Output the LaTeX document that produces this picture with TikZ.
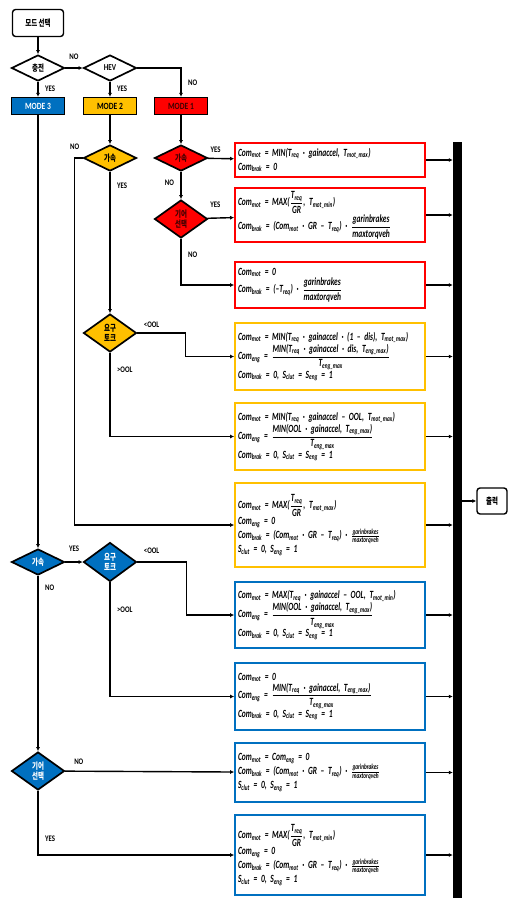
\documentclass[tikz,border=0pt]{standalone}
\usepackage{amsmath}
\usepackage{fontspec}
\setmainfont{Carlito}
\newfontfamily\kr[FakeStretch=0.72]{Noto Sans CJK KR}
\newfontfamily\lbl[FakeStretch=0.8]{Carlito}
\newfontfamily\fml[FakeStretch=0.68]{Carlito}
\usetikzlibrary{shapes,arrows.meta,positioning,calc}

\definecolor{mblue}{RGB}{0,112,192}
\definecolor{myellow}{RGB}{255,192,0}
\definecolor{mred}{RGB}{255,0,0}

\newcommand{\sbs}[1]{\textsubscript{#1}}
\newcommand{\frc}[2]{$\dfrac{\text{#1}}{\text{#2}}$}
\newcommand{\sfrc}[2]{$\tfrac{\text{#1}}{\text{#2}}$}
\newcommand{\mns}{–}
\newcommand{\fmlfont}{\fml\fontsize{11}{14}\selectfont\bfseries\itshape\spaceskip=1.6pt plus 0.5pt\relax}

\tikzset{
  arr/.style={line width=1.4pt, -{Latex[length=4pt,width=4pt]}},
  dec/.style={diamond, draw, line width=1.7pt, inner sep=0pt, minimum width=53pt,
    minimum height=26pt, align=center, font=\kr\fontsize{9}{10.5}\selectfont\bfseries},
  modebox/.style={rectangle, draw, line width=1.3pt, minimum width=53pt,
    minimum height=17pt, inner sep=0pt, font=\lbl\fontsize{9.5}{10}\selectfont\bfseries},
  termbox/.style={rectangle, rounded corners=3pt, draw, line width=1.4pt, fill=white,
    inner sep=0pt, font=\kr\fontsize{9}{10}\selectfont\bfseries},
  calcbox/.style={rectangle, draw, line width=1.7pt, minimum width=190pt, text width=184pt,
    inner sep=3pt, align=left, font=\fmlfont},
  yn/.style={font=\lbl\fontsize{8.5}{9}\selectfont\bfseries}
}

\begin{document}
\begin{tikzpicture}[x=1pt,y=-1pt]
\useasboundingbox (0,0) rectangle (508,898);

% Mode selection
\node[termbox, minimum width=51pt, minimum height=27pt] (sel) at (38,23) {모드 선택};
\node[dec] (chg) at (38,68) {충전};
\node[dec, font=\lbl\fontsize{9}{9}\selectfont\bfseries] (hev) at (110,68) {HEV};
\node[modebox, fill=mblue, text=white] (m3) at (38,106) {MODE 3};
\node[modebox, fill=myellow] (m2) at (110,106) {MODE 2};
\node[modebox, fill=mred, text=red!25!black] (m1) at (181,106) {MODE 1};

% Decisions
\node[dec, fill=mred, text=red!25!black] (acc1) at (181,158) {가속};
\node[dec, fill=mred, text=red!25!black, minimum height=38pt] (gear1) at (181,219) {기어\\선택};
\node[dec, fill=myellow] (acc2) at (110,158) {가속};
\node[dec, fill=myellow, minimum height=38pt] (req2) at (110,333) {요구\\토크};
\node[dec, fill=mblue, text=white] (acc3) at (38,562) {가속};
\node[dec, fill=mblue, text=white, minimum height=39pt] (req3) at (110,562) {요구\\토크};
\node[dec, fill=mblue, text=white, minimum height=38pt] (gear3) at (38,771) {기어\\선택};

% Mode 1 commands
\node[calcbox, draw=mred, minimum height=34pt] (r1) at (330,160) {%
Com\sbs{mot} = MIN(T\sbs{req} · gainaccel, T\sbs{mot\_max})\\
Com\sbs{brak} = 0};
\node[calcbox, draw=mred, minimum height=54pt] (r2) at (330,215) {%
Com\sbs{mot} = MAX(\frc{T\sbs{req}}{GR}, T\sbs{mot\_min})\\
Com\sbs{brak} = (Com\sbs{mot} · GR \mns{} T\sbs{req}) · \frc{garinbrakes}{maxtorqveh}};
\node[calcbox, draw=mred, minimum height=46pt] (r3) at (330,285) {%
Com\sbs{mot} = 0\\
Com\sbs{brak} = (\mns{}T\sbs{req}) · \frc{garinbrakes}{maxtorqveh}};

% Mode 2 commands
\node[calcbox, draw=myellow, minimum height=67pt] (y1) at (330,356.5) {%
Com\sbs{mot} = MIN(T\sbs{req} · gainaccel · (1 \mns{} dis), T\sbs{mot\_max})\\
Com\sbs{eng} = \frc{MIN(T\sbs{req} · gainaccel · dis, T\sbs{eng\_max})}{T\sbs{eng\_max}}\\
Com\sbs{brak} = 0, S\sbs{clut} = S\sbs{eng} = 1};
\node[calcbox, draw=myellow, minimum height=67pt] (y2) at (330,436.5) {%
Com\sbs{mot} = MIN(T\sbs{req} · gainaccel \mns{} OOL, T\sbs{mot\_max})\\
Com\sbs{eng} = \frc{MIN(OOL · gainaccel, T\sbs{eng\_max})}{T\sbs{eng\_max}}\\
Com\sbs{brak} = 0, S\sbs{clut} = S\sbs{eng} = 1};
\node[calcbox, draw=myellow, minimum height=84pt] (y3) at (330,525) {%
Com\sbs{mot} = MAX(\frc{T\sbs{req}}{GR}, T\sbs{mot\_max})\\
Com\sbs{eng} = 0\\
Com\sbs{brak} = (Com\sbs{mot} · GR \mns{} T\sbs{req}) · \sfrc{garinbrakes}{maxtorqveh}\\
S\sbs{clut} = 0, S\sbs{eng} = 1};

% Mode 3 commands
\node[calcbox, draw=mblue, minimum height=66pt] (b1) at (330,615) {%
Com\sbs{mot} = MAX(T\sbs{req} · gainaccel \mns{} OOL, T\sbs{mot\_min})\\
Com\sbs{eng} = \frc{MIN(OOL · gainaccel, T\sbs{eng\_max})}{T\sbs{eng\_max}}\\
Com\sbs{brak} = 0, S\sbs{clut} = S\sbs{eng} = 1};
\node[calcbox, draw=mblue, minimum height=67pt] (b2) at (330,696.5) {%
Com\sbs{mot} = 0\\
Com\sbs{eng} = \frc{MIN(T\sbs{req} · gainaccel, T\sbs{eng\_max})}{T\sbs{eng\_max}}\\
Com\sbs{brak} = 0, S\sbs{clut} = S\sbs{eng} = 1};
\node[calcbox, draw=mblue, minimum height=59pt] (b3) at (330,772.5) {%
Com\sbs{mot} = Com\sbs{eng} = 0\\
Com\sbs{brak} = (Com\sbs{mot} · GR \mns{} T\sbs{req}) · \sfrc{garinbrakes}{maxtorqveh}\\
S\sbs{clut} = 0, S\sbs{eng} = 1};
\node[calcbox, draw=mblue, minimum height=80pt] (b4) at (330,855) {%
Com\sbs{mot} = MAX(\frc{T\sbs{req}}{GR}, T\sbs{mot\_min})\\
Com\sbs{eng} = 0\\
Com\sbs{brak} = (Com\sbs{mot} · GR \mns{} T\sbs{req}) · \sfrc{garinbrakes}{maxtorqveh}\\
S\sbs{clut} = 0, S\sbs{eng} = 1};

% Output bus
\node[fill=black, inner sep=0pt, minimum width=9pt, minimum height=756pt] (bus) at (457.5,520) {};
\node[termbox, minimum width=30pt, minimum height=26pt] (out) at (492,501) {출력};

% Top flow
\draw[arr] (sel) -- (chg);
\draw[arr] (chg) -- (hev) node[yn, midway, above=4pt] {NO};
\draw[arr] (chg) -- (m3) node[yn, pos=0.45, right=3pt] {YES};
\draw[arr] (hev) -- (m2) node[yn, pos=0.45, right=3pt] {YES};
\draw[arr] (hev) -| (m1) node[yn, pos=0.75, right=3pt] {NO};
\draw[arr] (m2) -- (acc2);
\draw[arr] (m1) -- (acc1);

% Mode 1 branches
\draw[arr] (acc1) -- (r1) node[yn, pos=0.3, above=2pt] {YES};
\draw[arr] (acc1) -- (gear1) node[yn, pos=0.4, left=3pt] {NO};
\draw[arr] (gear1) -- (r2) node[yn, pos=0.3, above=6pt] {YES};
\draw[arr] (gear1) |- (r3) node[yn, pos=0.17, right=3pt] {NO};

% Mode 2 branches
\draw[arr] (acc2) -- (req2) node[yn, pos=0.1, right=3pt] {YES};
\draw[arr] (acc2.west) -- ++(-8,0) node[yn, above=4pt] {NO} |- (y3);
\draw[arr] (req2.east) -- ++(48,0) |- (y1);
\node[yn, above right=2pt and 3pt of req2.east] (lt2) {<OOL};
\draw[arr] (req2.south) |- (y2) node[yn, pos=0.1, right=3pt] {>OOL};

% Mode 3 branches
\draw[arr] (m3) -- (acc3);
\draw[arr] (acc3) -- (req3) node[yn, midway, above=6pt] {YES};
\draw[arr] (acc3) -- (gear3) node[yn, pos=0.07, right=3pt] {NO};
\draw[arr] (req3.east) -- ++(49,0) |- (b1);
\node[yn, above right=5pt and 3pt of req3.east] (lt3) {<OOL};
\draw[arr] (req3.south) |- (b2) node[yn, pos=0.12, right=3pt] {>OOL};
\draw[arr] (gear3) -- (b3) node[yn, pos=0.03, above right=3pt and 0pt] {NO};
\draw[arr] (gear3.south) |- (b4) node[yn, pos=0.37, right=3pt] {YES};

% To output
\foreach \b in {r1,r2,r3,y1,y2,y3,b1,b2,b3,b4}
  \draw[arr] (\b.east) -- (\b.east -| bus.west);
\draw[arr] (out.west -| bus.east) -- (out);
\end{tikzpicture}
\end{document}
